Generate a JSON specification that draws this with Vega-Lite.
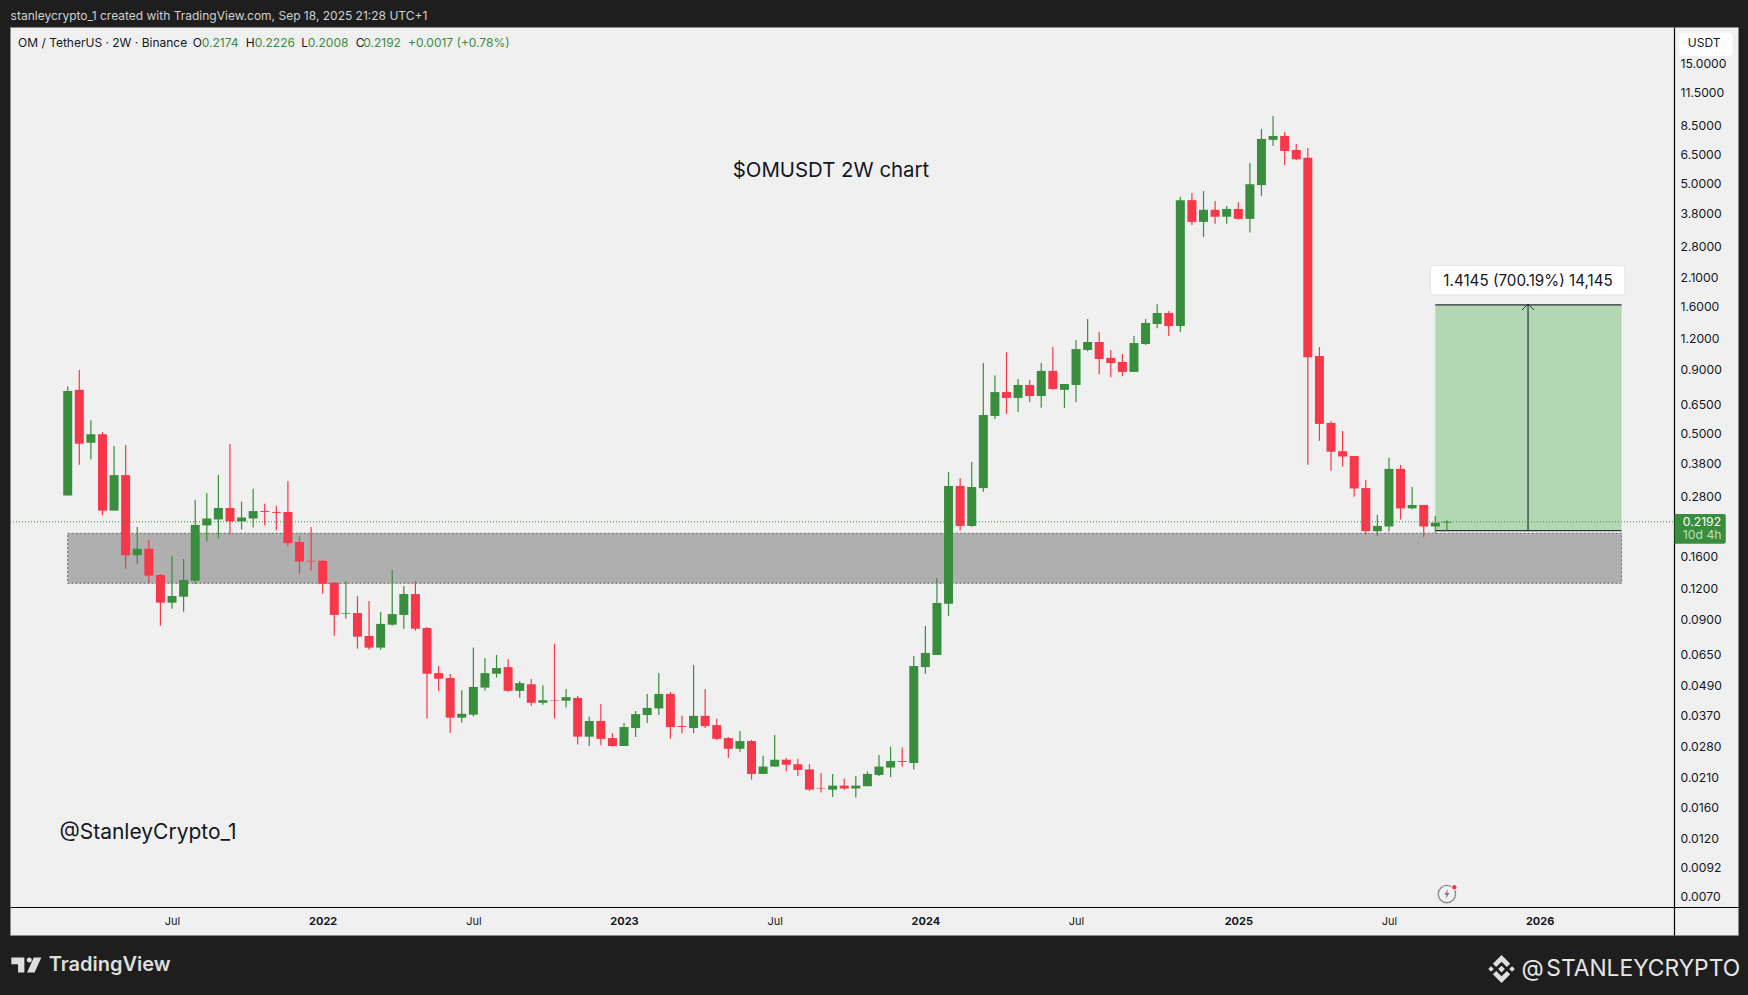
{"$schema":"https://vega.github.io/schema/vega-lite/v6.json","autosize":"none","width":1728,"height":908,"padding":{"left":10,"top":27,"right":10,"bottom":60},"background":"#1e1e1e","view":{"fill":"#f0f0f0","stroke":"#8a8a8a","strokeWidth":1},"config":{"font":"Inter"},"datasets":{"candles":[
{"date":"2021-03-01","open":0.279,"high":0.762,"low":0.279,"close":0.732},
{"date":"2021-03-15","open":0.739,"high":0.888,"low":0.371,"close":0.45},
{"date":"2021-03-29","open":0.454,"high":0.559,"low":0.389,"close":0.491},
{"date":"2021-04-12","open":0.491,"high":0.501,"low":0.233,"close":0.243},
{"date":"2021-04-26","open":0.243,"high":0.441,"low":0.243,"close":0.337},
{"date":"2021-05-10","open":0.337,"high":0.445,"low":0.1424,"close":0.161},
{"date":"2021-05-24","open":0.161,"high":0.209,"low":0.149,"close":0.171},
{"date":"2021-06-07","open":0.171,"high":0.186,"low":0.1245,"close":0.1335},
{"date":"2021-06-21","open":0.1343,"high":0.1355,"low":0.0842,"close":0.1041},
{"date":"2021-07-05","open":0.1041,"high":0.16,"low":0.0985,"close":0.1107},
{"date":"2021-07-19","open":0.11,"high":0.1557,"low":0.0958,"close":0.1283},
{"date":"2021-08-02","open":0.1275,"high":0.268,"low":0.124,"close":0.213},
{"date":"2021-08-16","open":0.212,"high":0.286,"low":0.183,"close":0.226},
{"date":"2021-08-30","open":0.224,"high":0.337,"low":0.188,"close":0.249},
{"date":"2021-09-13","open":0.249,"high":0.449,"low":0.195,"close":0.22},
{"date":"2021-09-27","open":0.22,"high":0.264,"low":0.204,"close":0.228},
{"date":"2021-10-11","open":0.226,"high":0.297,"low":0.208,"close":0.242},
{"date":"2021-10-25","open":0.242,"high":0.259,"low":0.212,"close":0.24},
{"date":"2021-11-08","open":0.24,"high":0.254,"low":0.203,"close":0.238},
{"date":"2021-11-22","open":0.24,"high":0.319,"low":0.175,"close":0.18},
{"date":"2021-12-06","open":0.182,"high":0.193,"low":0.136,"close":0.152},
{"date":"2021-12-20","open":0.153,"high":0.209,"low":0.14,"close":0.152},
{"date":"2022-01-03","open":0.153,"high":0.154,"low":0.113,"close":0.124},
{"date":"2022-01-17","open":0.125,"high":0.126,"low":0.0768,"close":0.093},
{"date":"2022-01-31","open":0.094,"high":0.127,"low":0.0899,"close":0.0946},
{"date":"2022-02-14","open":0.0946,"high":0.1107,"low":0.0681,"close":0.0761},
{"date":"2022-02-28","open":0.0766,"high":0.1057,"low":0.0675,"close":0.0688},
{"date":"2022-03-14","open":0.0688,"high":0.0955,"low":0.0675,"close":0.0856},
{"date":"2022-03-28","open":0.085,"high":0.1406,"low":0.0842,"close":0.0937},
{"date":"2022-04-11","open":0.093,"high":0.1214,"low":0.0819,"close":0.1127},
{"date":"2022-04-25","open":0.1127,"high":0.127,"low":0.0804,"close":0.0819},
{"date":"2022-05-09","open":0.0824,"high":0.0832,"low":0.0358,"close":0.0541},
{"date":"2022-05-23","open":0.0544,"high":0.0581,"low":0.0462,"close":0.0517},
{"date":"2022-06-06","open":0.052,"high":0.054,"low":0.0314,"close":0.0361},
{"date":"2022-06-20","open":0.0361,"high":0.0465,"low":0.0345,"close":0.0374},
{"date":"2022-07-04","open":0.0371,"high":0.0688,"low":0.0365,"close":0.0479},
{"date":"2022-07-18","open":0.0476,"high":0.0626,"low":0.0462,"close":0.0544},
{"date":"2022-08-01","open":0.0541,"high":0.0643,"low":0.0522,"close":0.057},
{"date":"2022-08-15","open":0.0575,"high":0.062,"low":0.0458,"close":0.0462},
{"date":"2022-08-29","open":0.0462,"high":0.0506,"low":0.0434,"close":0.0496},
{"date":"2022-09-12","open":0.0491,"high":0.0515,"low":0.0403,"close":0.0414},
{"date":"2022-09-26","open":0.0414,"high":0.0487,"low":0.0407,"close":0.0424},
{"date":"2022-10-10","open":0.0424,"high":0.0713,"low":0.0358,"close":0.0422},
{"date":"2022-10-24","open":0.0422,"high":0.047,"low":0.0396,"close":0.0436},
{"date":"2022-11-07","open":0.0433,"high":0.0441,"low":0.0282,"close":0.0303},
{"date":"2022-11-21","open":0.0303,"high":0.0364,"low":0.0278,"close":0.035},
{"date":"2022-12-05","open":0.035,"high":0.0409,"low":0.028,"close":0.0297},
{"date":"2022-12-19","open":0.0299,"high":0.0313,"low":0.0276,"close":0.0278},
{"date":"2023-01-02","open":0.0278,"high":0.0344,"low":0.0278,"close":0.0331},
{"date":"2023-01-16","open":0.0328,"high":0.0384,"low":0.0302,"close":0.0373},
{"date":"2023-01-30","open":0.037,"high":0.0449,"low":0.0344,"close":0.0395},
{"date":"2023-02-13","open":0.0393,"high":0.0544,"low":0.037,"close":0.0449},
{"date":"2023-02-27","open":0.0449,"high":0.0457,"low":0.0297,"close":0.0331},
{"date":"2023-03-13","open":0.0334,"high":0.0367,"low":0.0313,"close":0.0331},
{"date":"2023-03-27","open":0.0328,"high":0.0587,"low":0.0313,"close":0.0367},
{"date":"2023-04-10","open":0.0367,"high":0.047,"low":0.0328,"close":0.0334},
{"date":"2023-04-24","open":0.0337,"high":0.0357,"low":0.0294,"close":0.0297},
{"date":"2023-05-08","open":0.0299,"high":0.0302,"low":0.0249,"close":0.0271},
{"date":"2023-05-22","open":0.0271,"high":0.0319,"low":0.0264,"close":0.0291},
{"date":"2023-06-05","open":0.0291,"high":0.0294,"low":0.0204,"close":0.0215},
{"date":"2023-06-19","open":0.0215,"high":0.0254,"low":0.0215,"close":0.023},
{"date":"2023-07-03","open":0.023,"high":0.0308,"low":0.023,"close":0.0245},
{"date":"2023-07-17","open":0.0245,"high":0.0249,"low":0.0221,"close":0.0234},
{"date":"2023-07-31","open":0.0235,"high":0.0247,"low":0.0211,"close":0.0223},
{"date":"2023-08-14","open":0.0224,"high":0.0235,"low":0.0184,"close":0.0186},
{"date":"2023-08-28","open":0.0189,"high":0.0217,"low":0.0181,"close":0.0188},
{"date":"2023-09-11","open":0.0186,"high":0.0215,"low":0.0174,"close":0.0193},
{"date":"2023-09-25","open":0.0193,"high":0.0206,"low":0.0186,"close":0.0188},
{"date":"2023-10-09","open":0.0188,"high":0.0211,"low":0.0173,"close":0.0193},
{"date":"2023-10-23","open":0.0192,"high":0.022,"low":0.0192,"close":0.0215},
{"date":"2023-11-06","open":0.0213,"high":0.0256,"low":0.0211,"close":0.023},
{"date":"2023-11-20","open":0.0228,"high":0.0276,"low":0.0209,"close":0.0242},
{"date":"2023-12-04","open":0.0242,"high":0.0274,"low":0.023,"close":0.024},
{"date":"2023-12-18","open":0.0238,"high":0.0637,"low":0.0224,"close":0.0581},
{"date":"2024-01-01","open":0.0575,"high":0.084,"low":0.0541,"close":0.0655},
{"date":"2024-01-15","open":0.0643,"high":0.1307,"low":0.0643,"close":0.1038},
{"date":"2024-01-29","open":0.103,"high":0.347,"low":0.0921,"close":0.305},
{"date":"2024-02-12","open":0.305,"high":0.328,"low":0.202,"close":0.211},
{"date":"2024-02-26","open":0.211,"high":0.38,"low":0.209,"close":0.302},
{"date":"2024-03-11","open":0.299,"high":0.946,"low":0.289,"close":0.586},
{"date":"2024-03-25","open":0.581,"high":0.845,"low":0.565,"close":0.724},
{"date":"2024-04-08","open":0.724,"high":1.044,"low":0.592,"close":0.686},
{"date":"2024-04-22","open":0.686,"high":0.816,"low":0.603,"close":0.773},
{"date":"2024-05-06","open":0.773,"high":0.809,"low":0.661,"close":0.698},
{"date":"2024-05-20","open":0.698,"high":0.946,"low":0.626,"close":0.88},
{"date":"2024-06-03","open":0.88,"high":1.097,"low":0.739,"close":0.745},
{"date":"2024-06-17","open":0.739,"high":0.78,"low":0.626,"close":0.78},
{"date":"2024-07-01","open":0.773,"high":1.17,"low":0.661,"close":1.076},
{"date":"2024-07-15","open":1.067,"high":1.419,"low":1.054,"close":1.148},
{"date":"2024-07-29","open":1.148,"high":1.26,"low":0.853,"close":0.982},
{"date":"2024-08-12","open":0.992,"high":1.067,"low":0.83,"close":0.946},
{"date":"2024-08-26","open":0.955,"high":1.028,"low":0.837,"close":0.872},
{"date":"2024-09-09","open":0.872,"high":1.214,"low":0.872,"close":1.137},
{"date":"2024-09-23","open":1.127,"high":1.419,"low":1.117,"close":1.368},
{"date":"2024-10-07","open":1.355,"high":1.625,"low":1.303,"close":1.5},
{"date":"2024-10-21","open":1.5,"high":1.528,"low":1.214,"close":1.331},
{"date":"2024-11-04","open":1.331,"high":4.37,"low":1.26,"close":4.24},
{"date":"2024-11-18","open":4.24,"high":4.53,"low":3.37,"close":3.47},
{"date":"2024-12-02","open":3.47,"high":4.61,"low":3.02,"close":3.88},
{"date":"2024-12-16","open":3.88,"high":4.21,"low":3.41,"close":3.64},
{"date":"2024-12-30","open":3.64,"high":4.02,"low":3.41,"close":3.91},
{"date":"2025-01-13","open":3.91,"high":4.16,"low":3.54,"close":3.57},
{"date":"2025-01-27","open":3.57,"high":5.97,"low":3.15,"close":4.91},
{"date":"2025-02-10","open":4.87,"high":8.17,"low":4.41,"close":7.45},
{"date":"2025-02-24","open":7.39,"high":9.21,"low":6.98,"close":7.66},
{"date":"2025-03-10","open":7.66,"high":7.95,"low":5.86,"close":6.67},
{"date":"2025-03-24","open":6.73,"high":7.11,"low":6.12,"close":6.18},
{"date":"2025-04-07","open":6.26,"high":6.86,"low":0.371,"close":0.998},
{"date":"2025-04-21","open":1.009,"high":1.097,"low":0.462,"close":0.54},
{"date":"2025-05-05","open":0.545,"high":0.553,"low":0.351,"close":0.418},
{"date":"2025-05-19","open":0.42,"high":0.506,"low":0.365,"close":0.4},
{"date":"2025-06-02","open":0.402,"high":0.402,"low":0.276,"close":0.298},
{"date":"2025-06-16","open":0.299,"high":0.322,"low":0.194,"close":0.201},
{"date":"2025-06-30","open":0.201,"high":0.234,"low":0.192,"close":0.211},
{"date":"2025-07-14","open":0.21,"high":0.395,"low":0.201,"close":0.357},
{"date":"2025-07-28","open":0.357,"high":0.37,"low":0.224,"close":0.248},
{"date":"2025-08-11","open":0.248,"high":0.302,"low":0.246,"close":0.256},
{"date":"2025-08-25","open":0.256,"high":0.256,"low":0.19,"close":0.21},
{"date":"2025-09-08","open":0.21,"high":0.231,"low":0.198,"close":0.2175},
{"date":"2025-09-22","open":0.2174,"high":0.2226,"low":0.2008,"close":0.2192}
]},
"encoding":{
"x":{"field":"date","type":"temporal","scale":{"type":"utc","nice":false,"padding":0,"domain":[{"year":2020,"month":12,"date":21,"hours":7,"utc":true},{"year":2026,"month":9,"date":8,"hours":15,"utc":true}]},"axis":{"title":null,"orient":"bottom","offset":-28,"ticks":false,"grid":false,"domainColor":"#000000","domainWidth":1.2,"labelColor":"#131722","labelFontSize":11,"labelFont":"Inter","labelPadding":14,"labelOverlap":false,"labelFlush":false,"labelBaseline":"middle","labelFontWeight":{"condition":{"test":"utcmonth(datum.value)==0","value":"bold"},"value":"normal"},"labelExpr":"utcmonth(datum.value)==0 ? utcFormat(datum.value,'%Y') : 'Jul'","values":[{"year":2021,"month":7,"date":5,"utc":true},{"year":2022,"month":1,"date":3,"utc":true},{"year":2022,"month":7,"date":4,"utc":true},{"year":2023,"month":1,"date":2,"utc":true},{"year":2023,"month":7,"date":3,"utc":true},{"year":2024,"month":1,"date":1,"utc":true},{"year":2024,"month":7,"date":1,"utc":true},{"year":2025,"month":1,"date":13,"utc":true},{"year":2025,"month":7,"date":14,"utc":true},{"year":2026,"month":1,"date":12,"utc":true}]}},
"y":{"field":"price","type":"quantitative","scale":{"type":"log","domain":[0.004877,20.89],"nice":false,"zero":false},"axis":{"title":null,"orient":"right","offset":-64,"ticks":false,"grid":false,"domainColor":"#000000","domainWidth":1.2,"labelColor":"#131722","labelFontSize":12.2,"labelFont":"Inter","labelPadding":6,"labelOffset":1,"labelOverlap":false,"labelFlush":false,"format":".4f","values":[15,11.5,8.5,6.5,5,3.8,2.8,2.1,1.6,1.2,0.9,0.65,0.5,0.38,0.28,0.16,0.12,0.09,0.065,0.049,0.037,0.028,0.021,0.016,0.012,0.0092,0.007]}}
},
"layer":[
{"data":{"values":[{"date":"2021-03-01","date2":"2026-04-21","price":0.1972,"price2":0.1244}]},"mark":{"type":"rect","fill":"#afafaf","stroke":"#666666","strokeWidth":1,"strokeDash":[2,2]},"encoding":{"x2":{"field":"date2"},"y2":{"field":"price2"}}},
{"data":{"values":[{"date":"2025-09-08","date2":"2026-04-21","price":1.6165,"price2":0.202}]},"mark":{"type":"rect","fill":"#b2d7b2"},"encoding":{"x2":{"field":"date2"},"y2":{"field":"price2"}}},
{"data":{"values":[{"date":"2025-09-08","date2":"2026-04-21","price":1.6165},{"date":"2025-09-08","date2":"2026-04-21","price":0.202}]},"mark":{"type":"rule","color":"#2a2e39","strokeWidth":1.2},"encoding":{"x2":{"field":"date2"}}},
{"data":{"values":[{"date":"2025-12-29","price":1.6165,"price2":0.202}]},"mark":{"type":"rule","color":"#2a2e39","strokeWidth":1.2},"encoding":{"y2":{"field":"price2"}}},
{"data":{"values":[{"date":"2025-12-29","price":1.585}]},"mark":{"type":"point","shape":"M-1,0.5L0,-0.5L1,0.5","size":144,"filled":false,"stroke":"#2a2e39","strokeWidth":1,"opacity":1},"encoding":{}},
{"data":{"values":[{"date":"2025-09-02","date2":"2026-04-25","price":2.32,"price2":1.77}]},"mark":{"type":"rect","fill":"#ffffff","stroke":"#e3e3e3","strokeWidth":1,"cornerRadius":3},"encoding":{"x2":{"field":"date2"},"y2":{"field":"price2"}}},
{"data":{"values":[{"date":"2025-12-29","price":2.014,"label":"1.4145 (700.19%) 14,145"}]},"mark":{"type":"text","fontSize":15.2,"color":"#131722","font":"Inter","align":"center","baseline":"middle"},"encoding":{"text":{"field":"label"}}},
{"data":{"name":"candles"},"mark":{"type":"rule","strokeWidth":1.2},"encoding":{"y":{"field":"high","type":"quantitative","axis":{"title":null,"orient":"right","offset":-64,"ticks":false,"grid":false,"domainColor":"#000000","domainWidth":1.2,"labelColor":"#131722","labelFontSize":12.2,"labelFont":"Inter","labelPadding":6,"labelOffset":1,"labelOverlap":false,"labelFlush":false,"format":".4f","values":[15,11.5,8.5,6.5,5,3.8,2.8,2.1,1.6,1.2,0.9,0.65,0.5,0.38,0.28,0.16,0.12,0.09,0.065,0.049,0.037,0.028,0.021,0.016,0.012,0.0092,0.007]}},"y2":{"field":"low"},"color":{"condition":{"test":"datum.close >= datum.open","value":"#388e3c"},"value":"#f7374a"}}},
{"data":{"name":"candles"},"mark":{"type":"bar","size":9},"encoding":{"y":{"field":"open","type":"quantitative","axis":{"title":null,"orient":"right","offset":-64,"ticks":false,"grid":false,"domainColor":"#000000","domainWidth":1.2,"labelColor":"#131722","labelFontSize":12.2,"labelFont":"Inter","labelPadding":6,"labelOffset":1,"labelOverlap":false,"labelFlush":false,"format":".4f","values":[15,11.5,8.5,6.5,5,3.8,2.8,2.1,1.6,1.2,0.9,0.65,0.5,0.38,0.28,0.16,0.12,0.09,0.065,0.049,0.037,0.028,0.021,0.016,0.012,0.0092,0.007]}},"y2":{"field":"close"},"color":{"condition":{"test":"datum.close >= datum.open","value":"#388e3c"},"value":"#f7374a"}}},
{"data":{"values":[{"date":"2020-12-21T07:00:00Z","date2":"2026-06-23T07:00:00Z","price":0.2192}]},"mark":{"type":"rule","color":"#388e3c","strokeWidth":1,"strokeDash":[1,2]},"encoding":{"x2":{"field":"date2"}}},
{"data":{"values":[{"date":"2023-09-09","price":5.55,"label":"$OMUSDT 2W chart"}]},"mark":{"type":"text","fontSize":20.4,"color":"#131722","font":"Inter","align":"center","baseline":"middle"},"encoding":{"text":{"field":"label"}}},
{"data":{"values":[{"date":"2021-02-19","price":0.01245,"label":"@StanleyCrypto_1"}]},"mark":{"type":"text","fontSize":21,"color":"#131722","font":"Inter","align":"left","baseline":"middle"},"encoding":{"text":{"field":"label"}}},
{"data":{"values":[{"date":"2020-12-31","price":18.03,"label":"OM / TetherUS · 2W · Binance"},{"date":"2021-07-30","price":18.03,"label":"O"},{"date":"2021-10-02","price":18.03,"label":"H"},{"date":"2021-12-08","price":18.03,"label":"L"},{"date":"2022-02-12","price":18.03,"label":"C"}]},"mark":{"type":"text","fontSize":12,"color":"#131722","font":"Inter","align":"left","baseline":"middle"},"encoding":{"text":{"field":"label"}}},
{"data":{"values":[{"date":"2021-08-10","price":18.03,"label":"0.2174"},{"date":"2021-10-13","price":18.03,"label":"0.2226"},{"date":"2021-12-16","price":18.03,"label":"0.2008"},{"date":"2022-02-21","price":18.03,"label":"0.2192"},{"date":"2022-04-16","price":18.03,"label":"+0.0017 (+0.78%)"}]},"mark":{"type":"text","fontSize":12,"color":"#388e3c","font":"Inter","align":"left","baseline":"middle"},"encoding":{"text":{"field":"label"}}},
{"data":{"values":[{"date":"2026-06-29T16:00:00Z","date2":"2026-09-02","price":19.83,"price2":16.04}]},"mark":{"type":"rect","fill":"#ffffff","cornerRadius":3},"encoding":{"x2":{"field":"date2"},"y2":{"field":"price2"}}},
{"data":{"values":[{"date":"2026-07-29T16:00:00Z","price":18,"label":"USDT"}]},"mark":{"type":"text","fontSize":12,"color":"#131722","font":"Inter","align":"center","baseline":"middle"},"encoding":{"text":{"field":"label"}}},
{"data":{"values":[{"date":"2026-06-24","date2":"2026-08-24T20:00:00Z","price":0.2355,"price2":0.1792}]},"mark":{"type":"rect","fill":"#388e3c","cornerRadiusTopRight":2,"cornerRadiusBottomRight":2},"encoding":{"x2":{"field":"date2"},"y2":{"field":"price2"}}},
{"data":{"values":[{"date":"2026-07-04","price":0.2192,"label":"0.2192"}]},"mark":{"type":"text","fontSize":12.2,"color":"#ffffff","font":"Inter","align":"left","baseline":"middle"},"encoding":{"text":{"field":"label"}}},
{"data":{"values":[{"date":"2026-07-04","price":0.1936,"label":"10d 4h"}]},"mark":{"type":"text","fontSize":12.2,"color":"#c3dcc4","font":"Inter","align":"left","baseline":"middle"},"encoding":{"text":{"field":"label"}}},
{"data":{"values":[{"date":"2025-09-22","price":0.00711}]},"mark":{"type":"point","shape":"circle","size":300,"filled":true,"fill":"#f0f0f0","stroke":"#8a8a8a","strokeWidth":1.3,"opacity":1},"encoding":{}},
{"data":{"values":[{"date":"2025-09-22","price":0.00711}]},"mark":{"type":"point","shape":"M0.2,-1L-0.5,0.15L-0.05,0.15L-0.25,1L0.5,-0.2L0.05,-0.2Z","size":100,"filled":true,"fill":"#777777","opacity":1},"encoding":{}},
{"data":{"values":[{"date":"2025-10-01","price":0.00757}]},"mark":{"type":"point","shape":"circle","size":30,"filled":true,"fill":"#f23645","stroke":"#ffffff","strokeWidth":1,"opacity":1},"encoding":{}},
{"data":{"values":[{"date":"2020-12-22","price":23.1,"label":"stanleycrypto_1 created with TradingView.com, Sep 18, 2025 21:28 UTC+1"}]},"mark":{"type":"text","fontSize":12,"color":"#d1d1d1","font":"Inter","align":"left","baseline":"middle"},"encoding":{"text":{"field":"label"}}},
{"data":{"values":[{"date":"2021-01-10","price":0.0037}]},"mark":{"type":"point","shape":"M-1,-0.5L-0.13,-0.5L-0.13,0.5L-0.55,0.5L-0.55,-0.05L-1,-0.05ZM0.5,-0.5L1,-0.5L0.55,0.5L0.05,0.5ZM0.2,-0.5a0.17,0.17 0 1,0 0.001,0Z","size":900,"filled":true,"fill":"#dedede","opacity":1},"encoding":{}},
{"data":{"values":[{"date":"2021-02-06","price":0.0037,"label":"TradingView"}]},"mark":{"type":"text","fontSize":20,"fontWeight":600,"color":"#dedede","font":"Inter","align":"left","baseline":"middle"},"encoding":{"text":{"field":"label"}}},
{"data":{"values":[{"date":"2025-11-27","price":0.003565}]},"mark":{"type":"point","shape":"M0,-0.24L0.24,0L0,0.24L-0.24,0ZM-0.75,-0.2L-0.55,0L-0.75,0.2L-0.95,0ZM0.75,-0.2L0.95,0L0.75,0.2L0.55,0ZM0,-1L0.62,-0.38L0.38,-0.14L0,-0.52L-0.38,-0.14L-0.62,-0.38ZM0,1L0.62,0.38L0.38,0.14L0,0.52L-0.38,0.14L-0.62,0.38Z","size":784,"filled":true,"fill":"#dedede","opacity":1},"encoding":{}},
{"data":{"values":[{"date":"2025-12-21","price":0.00358,"label":"@"}]},"mark":{"type":"text","fontSize":23,"color":"#e6e6e6","font":"Inter","align":"left","baseline":"middle"},"encoding":{"text":{"field":"label"}}},
{"data":{"values":[{"date":"2026-01-20","price":0.00358,"label":"STANLEYCRYPTO"}]},"mark":{"type":"text","fontSize":22.8,"color":"#e6e6e6","font":"Inter","align":"left","baseline":"middle"},"encoding":{"text":{"field":"label"}}}
]}
